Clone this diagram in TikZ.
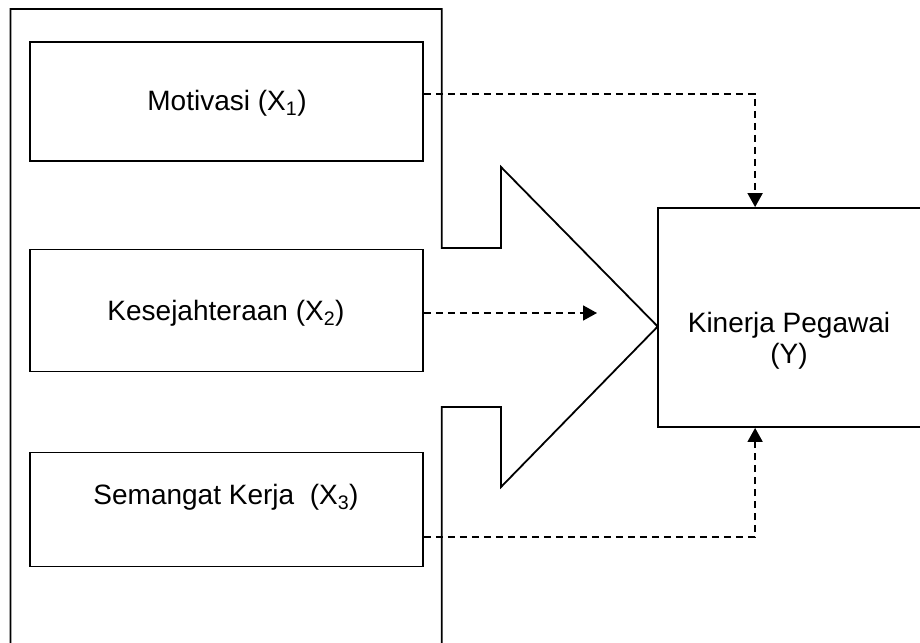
\documentclass[tikz,border=0pt]{standalone}
\usepackage{fontspec}
\setmainfont{Liberation Sans}
\usetikzlibrary{arrows.meta}
\newcommand{\subx}[1]{\textsubscript{#1}}
\tikzset{
  box/.style={draw, line width=1.8pt, minimum width=393pt, inner sep=0pt},
  txt/.style={font=\fontsize{28}{31}\selectfont, inner sep=0pt},
  dashline/.style={line width=1.7pt, dash pattern=on 7.5pt off 4.5pt, -{Triangle[length=14pt,width=15pt]}},
  outline/.style={line width=1.8pt, line join=miter}
}
\begin{document}
\begin{tikzpicture}[x=1pt,y=-1pt]
\useasboundingbox (0,0) rectangle (920,642);
\clip (0,0) rectangle (920,642);
% big bracket + arrow shape
\draw[outline] (10.5,660) -- (10.5,9) -- (441.7,9) -- (441.7,248) -- (501,248) -- (501,167)
  -- (657.7,326.5) -- (501,487) -- (501,407) -- (441.7,407) -- (441.7,660);
% boxes
\node[box, minimum height=119pt] (b1) at (226.5,101.5) {};
\node[txt] (t1) at (227,103) {Motivasi (X\subx{1})};
\node[box, minimum height=122pt] (b2) at (226.5,310.5) {};
\node[txt] (t2) at (226,313) {Kesejahteraan (X\subx{2})};
\node[box, minimum height=114pt] (b3) at (226.5,509.5) {};
\node[txt] (t3) at (226,497) {Semangat Kerja~~(X\subx{3})};
\node[box, minimum width=264pt, minimum height=219pt] (Y) at (790,317.5) {};
\node[txt, align=center] (ty) at (789,341) {Kinerja Pegawai\\(Y)};
% connectors
\coordinate (a2end) at (597,313);
\coordinate (y1) at ([xshift=98pt]Y.north west);
\coordinate (y3) at ([xshift=98pt]Y.south west);
\draw[dashline] ([yshift=7.5pt]b1.east) -| (y1);
\draw[dashline] ([yshift=-2.5pt]b2.east) -- (a2end);
\draw[dashline] ([yshift=-27.5pt]b3.east) -| (y3);
\end{tikzpicture}
\end{document}
